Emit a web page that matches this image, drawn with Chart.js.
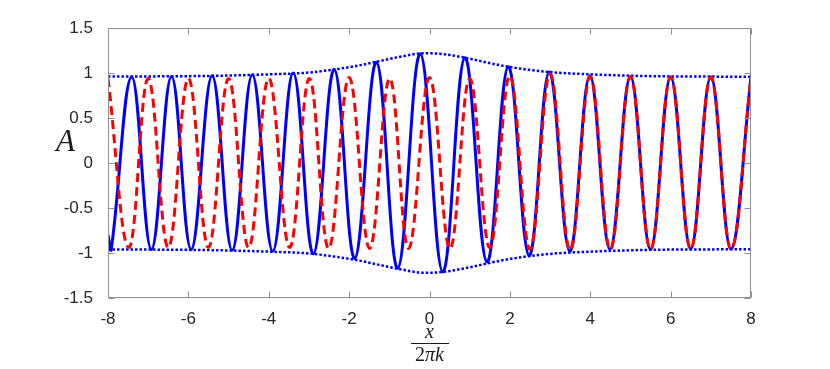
<!DOCTYPE html>
<html>
<head>
<meta charset="utf-8">
<script src="https://cdn.jsdelivr.net/npm/chart.js@4.4.1/dist/chart.umd.min.js"></script>
<style>
  body { margin: 0; background: #fff; }
  #wrap { position: relative; width: 830px; height: 369px; }
  .lbl { position: absolute; font-family: "Liberation Serif", "DejaVu Serif", serif; font-style: italic; color: #1a1a1a; white-space: nowrap; line-height: 1; }
</style>
</head>
<body>
<div id="wrap">
  <canvas id="grafico" width="830" height="369"></canvas>
  <div class="lbl" style="left:56px; top:125px; font-size:31px;">A</div>
  <div class="lbl" style="left:429.5px; top:321px; font-size:20px; transform:translateX(-50%);">x</div>
  <div style="position:absolute; left:411px; top:343px; width:38px; height:1px; background:#1a1a1a;"></div>
  <div class="lbl" style="left:429.5px; top:344px; font-size:20px; transform:translateX(-50%);"><span style="font-style:normal">2</span>πk</div>
</div>
<script>
// ticks dos eixos
const xTicks = [-8, -6, -4, -2, 0, 2, 4, 6, 8];
const yTicks = [-1.5, -1, -0.5, 0, 0.5, 1, 1.5];

// onda azul (linha cheia) - picos e vales
const blueX = [-8, -7.92, -7.41, -6.92, -6.42, -5.93, -5.41, -4.91, -4.41, -3.90, -3.39, -2.89, -2.37, -1.86, -1.32, -0.79, -0.23, 0.33, 0.88, 1.43, 1.96, 2.48, 2.98, 3.49, 3.99, 4.49, 5.00, 5.50, 6.00, 6.50, 7.00, 7.50, 8.00];
const blueY = [-0.80, -0.96, 0.955, -0.96, 0.96, -0.96, 0.97, -0.97, 0.98, -0.98, 1.00, -1.01, 1.04, -1.06, 1.12, -1.17, 1.215, -1.21, 1.17, -1.10, 1.07, -1.03, 1.01, -0.98, 0.97, -0.96, 0.96, -0.96, 0.955, -0.955, 0.955, -0.955, 0.955];

// onda vermelha (tracejada)
const redX = [-8, -7.48, -7.00, -6.50, -6.00, -5.50, -5.00, -4.50, -4.00, -3.48, -2.99, -2.51, -2.00, -1.49, -0.99, -0.52, 0.00, 0.51, 1.00, 1.50, 2.00, 2.50, 3.00, 3.50, 4.00, 4.50, 5.00, 5.50, 6.00, 6.50, 7.00, 7.50, 8.00];
const redY = [0.94, -0.94, 0.94, -0.94, 0.94, -0.94, 0.94, -0.94, 0.94, -0.94, 0.94, -0.95, 0.95, -0.95, 0.94, -0.95, 0.95, -0.95, 0.94, -0.94, 0.97, -0.96, 0.99, -0.97, 0.96, -0.96, 0.96, -0.96, 0.955, -0.955, 0.955, -0.955, 0.955];

// envoltoria (pontilhada)
const envX = [-8, -7, -6, -5, -4, -3, -2.37, -1.86, -1.32, -0.79, -0.1, 0.34, 0.88, 1.44, 1.96, 2.48, 3, 4, 5, 6, 7, 8];
const envTop = [0.96, 0.962, 0.965, 0.972, 0.985, 1.005, 1.04, 1.075, 1.125, 1.175, 1.22, 1.21, 1.17, 1.115, 1.07, 1.035, 1.01, 0.985, 0.97, 0.962, 0.96, 0.958];
const envBottom = [-0.96, -0.962, -0.965, -0.972, -0.985, -1.005, -1.04, -1.075, -1.125, -1.175, -1.22, -1.21, -1.17, -1.115, -1.07, -1.035, -1.01, -0.985, -0.97, -0.962, -0.96, -0.958];

const pontos = (xs, ys) => xs.map((x, i) => ({ x: x, y: ys[i] }));

// moldura estilo matlab com ticks para dentro
const moldura = {
  id: "moldura",
  afterDatasetsDraw(chart) {
    const { ctx, chartArea: a, scales } = chart;
    const L = Math.round(a.left) + 0.5, R = Math.round(a.right) - 0.5;
    const T = Math.round(a.top) + 0.5, B = Math.round(a.bottom) - 0.5;
    ctx.save();
    ctx.strokeStyle = "#8f8f8f";
    ctx.lineWidth = 1;
    ctx.strokeRect(L, T, R - L, B - T);
    ctx.beginPath();
    xTicks.forEach((v) => {
      const px = Math.round(scales.x.getPixelForValue(v)) + 0.5;
      ctx.moveTo(px, T); ctx.lineTo(px, T + 6);
      ctx.moveTo(px, B); ctx.lineTo(px, B - 6);
    });
    yTicks.forEach((v) => {
      const py = Math.round(scales.y.getPixelForValue(v)) + 0.5;
      ctx.moveTo(L, py); ctx.lineTo(L + 6, py);
      ctx.moveTo(R, py); ctx.lineTo(R - 6, py);
    });
    ctx.stroke();
    ctx.restore();
  },
};

const fonteTicks = { family: "'Liberation Sans', Arial, sans-serif", size: 17 };

const config_grafico = {
  type: "line",
  data: {
    datasets: [
      {
        data: pontos(redX, redY),
        borderColor: "#ff0000",
        borderWidth: 3,
        borderDash: [9, 5],
        tension: 0.4,
        pointRadius: 0,
        order: 0,
      },
      {
        data: pontos(envX, envTop),
        borderColor: "#0000ff",
        borderWidth: 2.5,
        borderDash: [2.5, 2],
        cubicInterpolationMode: "monotone",
        pointRadius: 0,
        order: 1,
      },
      {
        data: pontos(envX, envBottom),
        borderColor: "#0000ff",
        borderWidth: 2.5,
        borderDash: [2.5, 2],
        cubicInterpolationMode: "monotone",
        pointRadius: 0,
        order: 1,
      },
      {
        data: pontos(blueX, blueY),
        borderColor: "#0000ff",
        borderWidth: 3,
        tension: 0.4,
        pointRadius: 0,
        order: 2,
      },
    ],
  },
  options: {
    responsive: false,
    animation: false,
    layout: { padding: { top: 28, right: 79, bottom: 0, left: 0 } },
    plugins: {
      legend: { display: false },
      tooltip: { enabled: false },
    },
    scales: {
      x: {
        type: "linear",
        min: -8,
        max: 8,
        afterBuildTicks: (s) => { s.ticks = xTicks.map((v) => ({ value: v })); },
        afterFit: (s) => { s.height = 71; },
        grid: { display: false },
        border: { display: false },
        ticks: { font: fonteTicks, color: "#262626", padding: 3, maxRotation: 0, callback: (v) => String(v) },
      },
      y: {
        min: -1.5,
        max: 1.5,
        afterBuildTicks: (s) => { s.ticks = yTicks.map((v) => ({ value: v })); },
        afterFit: (s) => { s.width = 108; },
        grid: { display: false },
        border: { display: false },
        ticks: { font: fonteTicks, color: "#262626", padding: 7, callback: (v) => String(v) },
      },
    },
  },
  plugins: [moldura],
};

const myChart = new Chart(document.getElementById("grafico"), config_grafico);
</script>
</body>
</html>
